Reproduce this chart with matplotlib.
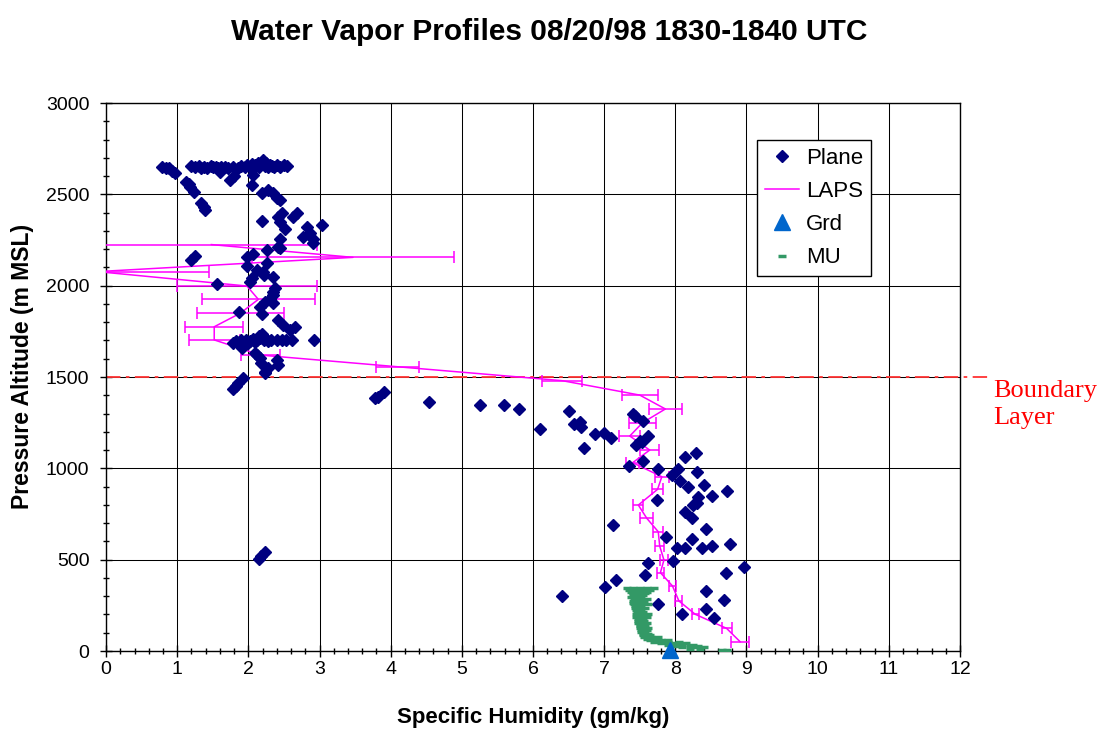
import matplotlib
matplotlib.use('Agg')
import matplotlib.pyplot as plt
from matplotlib.lines import Line2D
from matplotlib.ticker import MultipleLocator

plt.rcParams['font.family'] = ['Liberation Sans', 'DejaVu Sans']

# Plane (aircraft) specific humidity vs pressure altitude
plane_x = [0.78, 0.84, 0.88, 0.92, 0.97,
           1.20, 1.25, 1.30, 1.33, 1.38, 1.42, 1.47, 1.50, 1.55, 1.58, 1.62, 1.60, 1.67, 1.72, 1.78,
           1.80, 1.74, 1.85, 1.90, 1.95, 1.98, 2.02, 2.05, 2.08, 2.10, 2.13, 2.15, 2.18, 2.21, 2.23,
           2.25, 2.28, 2.30, 2.33, 2.36, 2.40, 2.45, 2.50, 2.54, 2.07, 2.05,
           1.13, 1.16, 1.18, 1.23, 1.34, 1.37, 1.39,
           2.19, 2.28, 2.35, 2.40, 2.44, 2.47, 2.42, 2.44, 2.19, 2.68, 2.63, 2.52, 2.82, 2.87, 2.91,
           2.77, 3.03, 2.44, 2.42, 2.44, 2.26, 1.98, 2.07, 2.26, 1.98, 1.20, 1.25, 2.91, 2.12, 2.21,
           2.22, 2.34, 2.05, 2.02, 1.56, 2.37, 2.35, 2.34, 2.30, 2.23, 2.34, 2.16, 1.87, 2.19, 2.42,
           2.48, 2.66, 2.59, 2.19, 2.22,
           1.83, 1.90, 1.97, 2.02, 2.07, 2.12, 2.17, 2.22, 2.27, 2.32, 2.40, 2.47, 2.53, 2.62, 2.92,
           2.10, 2.15, 2.00,
           1.79, 1.91, 2.09, 2.12, 2.16, 2.18, 2.40, 2.41, 2.23, 2.28, 2.24, 1.93, 1.86, 1.82, 1.79,
           2.15, 2.18, 2.23,
           3.78, 3.82, 3.91, 4.54, 5.26, 5.59, 5.81, 6.10, 6.50, 6.57, 6.66, 6.67, 6.71, 6.87, 7.00,
           7.09, 7.41, 7.43, 7.55, 7.62, 7.50, 7.45, 7.53, 7.54, 7.35, 7.76, 7.95, 8.04, 8.14, 8.29,
           8.30, 8.07, 8.18, 8.40, 8.52, 8.73, 8.32, 7.74,
           8.25, 8.30, 8.14, 8.23, 7.13, 8.43, 7.87, 8.23, 8.03, 8.14, 8.37, 8.52, 8.77, 7.97, 7.62,
           7.57, 7.17, 7.01, 8.96, 8.71, 8.43, 8.69, 7.75, 8.43, 8.09, 8.54, 6.41]
plane_y = [2651, 2645, 2642, 2630, 2615,
           2655, 2650, 2655, 2645, 2652, 2645, 2655, 2648, 2650, 2642, 2652, 2620, 2650, 2645, 2648,
           2600, 2580, 2645, 2655, 2648, 2660, 2650, 2665, 2645, 2660, 2670, 2650, 2665, 2690, 2655,
           2670, 2648, 2660, 2655, 2650, 2660, 2650, 2658, 2655, 2605, 2551,
           2569, 2555, 2542, 2514, 2451, 2432, 2414,
           2506, 2524, 2506, 2478, 2469, 2396, 2378, 2350, 2355, 2396, 2378, 2310, 2319, 2287, 2235,
           2268, 2332, 2254, 2213, 2204, 2195, 2155, 2173, 2126, 2108, 2140, 2160, 2255, 2086, 2077,
           2058, 2049, 2040, 2022, 2009, 1985, 1967, 1949, 1925, 1912, 1907, 1885, 1858, 1845, 1812,
           1785, 1772, 1757, 1735, 1720,
           1695, 1700, 1705, 1698, 1710, 1702, 1715, 1700, 1698, 1705, 1700, 1702, 1705, 1705, 1705,
           1690, 1725, 1685,
           1684, 1657, 1630, 1620, 1602, 1575, 1593, 1566, 1529, 1548, 1520, 1493, 1465, 1450, 1433,
           505, 520, 540,
           1383, 1390, 1420, 1365, 1347, 1347, 1323, 1214, 1316, 1243, 1255, 1228, 1110, 1188, 1195,
           1168, 1297, 1285, 1261, 1177, 1151, 1128, 1146, 1042, 1013, 995, 963, 995, 1064, 1086,
           982, 932, 896, 909, 849, 876, 841, 825,
           799, 808, 763, 726, 690, 666, 622, 613, 562, 562, 562, 575, 586, 494, 480,
           416, 389, 349, 458, 429, 330, 279, 257, 230, 201, 179, 301]

# LAPS profile with error bars
laps_y = [51, 124, 201, 274, 356, 429, 498, 575, 653, 726, 799, 885, 954, 1031, 1100,
          1177, 1250, 1325, 1401, 1480, 1556, 1620, 1703, 1775, 1850, 1925, 1998, 2077, 2155, 2225]
laps_x = [8.91, 8.72, 8.28, 8.05, 7.96, 7.79, 7.84, 7.78, 7.76, 7.60, 7.48, 7.75, 7.81, 7.40, 7.64,
          7.36, 7.54, 7.86, 7.50, 6.41, 4.10, 2.17, 1.52, 1.52, 1.89, 2.14, 1.98, -0.12, 3.47, 1.48]
laps_err = [0.13, 0.07, 0.05, 0.05, 0.05, 0.05, 0.06, 0.06, 0.07, 0.09, 0.07, 0.08, 0.10, 0.09, 0.13,
            0.15, 0.19, 0.23, 0.25, 0.28, 0.30, 0.28, 0.36, 0.41, 0.61, 0.79, 0.98, 1.56, 1.42, 1.49]

# Ground station
grd_x = [7.92]
grd_y = [5]

# MU profile
mu_y = [345, 345, 345, 345, 345, 335, 335, 335, 335, 325, 325, 325, 315, 315, 315,
        305, 305, 305, 295, 295, 295, 285, 285, 285, 275, 275, 275, 265, 265, 265,
        255, 255, 255, 245, 245, 235, 235, 235, 225, 225, 215, 215, 205, 205, 205,
        195, 195, 185, 185, 185, 175, 175, 165, 165, 155, 155, 155, 145, 145, 135, 135,
        125, 125, 125, 115, 115, 105, 105, 95, 95, 85, 85, 75, 75, 75, 65, 65,
        58, 58, 58, 50, 50, 50, 42, 42, 42, 35, 35, 35, 27, 27, 27, 20, 20, 20, 12, 12, 5, 5]
mu_x = [7.32, 7.40, 7.50, 7.60, 7.70, 7.35, 7.45, 7.55, 7.65, 7.38, 7.48, 7.60, 7.40, 7.50, 7.58,
        7.40, 7.48, 7.55, 7.38, 7.46, 7.52, 7.42, 7.50, 7.60, 7.40, 7.48, 7.56, 7.40, 7.46, 7.52,
        7.42, 7.50, 7.62, 7.44, 7.52, 7.44, 7.50, 7.58, 7.45, 7.52, 7.46, 7.55, 7.45, 7.50, 7.62,
        7.46, 7.54, 7.45, 7.50, 7.60, 7.47, 7.55, 7.48, 7.56, 7.48, 7.52, 7.60, 7.50, 7.58, 7.50, 7.55,
        7.50, 7.58, 7.62, 7.52, 7.60, 7.52, 7.58, 7.54, 7.62, 7.55, 7.65, 7.56, 7.66, 7.75, 7.60, 7.70,
        7.65, 7.80, 7.90, 7.70, 7.90, 8.05, 7.80, 8.00, 8.15, 7.90, 8.10, 8.25, 8.00, 8.20, 8.32,
        8.10, 8.25, 8.40, 8.20, 8.35, 8.65, 8.72]

boundary_layer = 1500

fig = plt.figure(figsize=(10.99, 7.30), dpi=100)
ax = fig.add_axes([0.0965, 0.1082, 0.777, 0.7507])

ax.errorbar(laps_x, laps_y, xerr=laps_err, color='#FF00FF', lw=1.1, elinewidth=1.1,
            capsize=4, capthick=1.1, zorder=3)
ax.plot(plane_x, plane_y, 'D', color='#000080', ms=6, mec='#000080', ls='none', zorder=4)
ax.plot(grd_x, grd_y, '^', color='#0066CC', ms=12, ls='none', clip_on=False, zorder=6)
ax.plot(mu_x, mu_y, '_', color='#339966', ms=6, mew=2.5, ls='none', zorder=5)

# boundary layer line runs a bit past the plot area
ax.plot([0, 1.035], [boundary_layer, boundary_layer], color='#FF3333', lw=1.3,
        dashes=(8, 3, 2, 3), transform=ax.get_yaxis_transform(), clip_on=False, zorder=2)
ax.text(1.0395, boundary_layer - 15, 'Boundary\nLayer', transform=ax.get_yaxis_transform(),
        color='red', fontsize=19, family=['Liberation Serif'], va='top', ha='left',
        linespacing=1.3)

ax.set_xlim(0, 12)
ax.set_ylim(0, 3000)
ax.xaxis.set_major_locator(MultipleLocator(1))
ax.xaxis.set_minor_locator(MultipleLocator(0.2))
ax.yaxis.set_major_locator(MultipleLocator(500))
ax.yaxis.set_minor_locator(MultipleLocator(100))
ax.tick_params(which='both', direction='inout', labelsize=14, width=1)
ax.tick_params(which='major', length=8)
ax.tick_params(axis='y', which='major', pad=8)
ax.tick_params(which='minor', length=5)
ax.tick_params(top=False, right=False)
ax.grid(True, which='major', color='black', lw=0.75)
ax.set_axisbelow(True)
for s in ax.spines.values():
    s.set_color('black')
    s.set_linewidth(1)

ax.set_xlabel('Specific Humidity (gm/kg)', fontsize=16, fontweight='bold')
ax.set_ylabel('Pressure Altitude (m MSL)', fontsize=16.5, fontweight='bold')
ax.xaxis.set_label_coords(0.5, -0.103)
ax.yaxis.set_label_coords(-0.084, 0.52)
fig.text(0.5, 1 - 32 / 730, 'Water Vapor Profiles 08/20/98 1830-1840 UTC', fontsize=21.5,
         fontweight='bold', ha='center', va='center')

handles = [Line2D([], [], marker='D', color='#000080', ls='none', ms=6),
           Line2D([], [], color='#FF00FF', lw=1.1),
           Line2D([], [], marker='^', color='#0066CC', ls='none', ms=12),
           Line2D([], [], marker='_', color='#339966', ls='none', ms=6, mew=2.5)]
leg = ax.legend(handles, ['Plane', 'LAPS', 'Grd', 'MU'],
                loc='upper left', bbox_to_anchor=(0.762, 0.9325), fontsize=16,
                frameon=True, fancybox=False, edgecolor='black', framealpha=1,
                borderpad=0.35, labelspacing=0.55, handlelength=1.55, handletextpad=0.3,
                borderaxespad=0)
leg.get_frame().set_linewidth(1)
leg.set_zorder(10)

fig.savefig('out.png', dpi=100)
